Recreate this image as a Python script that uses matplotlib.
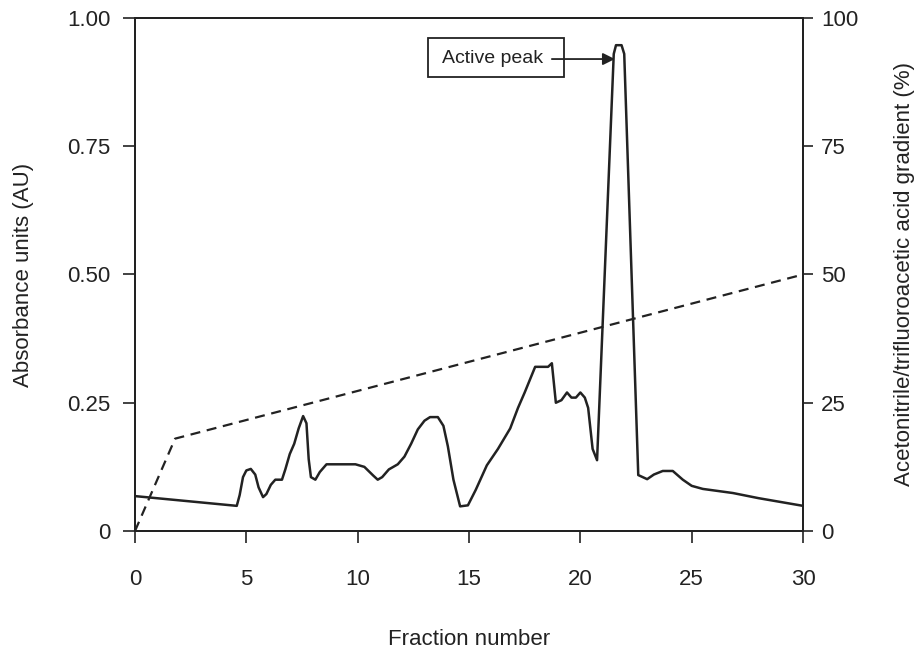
import matplotlib
matplotlib.use('Agg')
import matplotlib.pyplot as plt
from matplotlib.patches import Rectangle

plt.rcParams['font.family'] = ['Liberation Sans', 'DejaVu Sans']

# absorbance trace (AU) vs fraction number
fraction = [0, 4.57, 4.7, 4.85, 5.0, 5.2, 5.4, 5.55, 5.75, 5.9, 6.1, 6.3, 6.6, 6.75,
            6.95, 7.15, 7.35, 7.55, 7.7, 7.8, 7.9, 8.1, 8.3, 8.6, 9.9, 10.3, 10.7,
            10.9, 11.1, 11.4, 11.8, 12.1, 12.4, 12.7, 13.0, 13.25, 13.6, 13.85,
            14.05, 14.3, 14.6, 14.95, 15.3, 15.8, 16.3, 16.85, 17.2, 17.5, 17.97,
            18.55, 18.72, 18.9, 19.15, 19.4, 19.6, 19.8, 20.0, 20.2, 20.35, 20.55,
            20.75, 21.5, 21.6, 21.85, 21.97, 22.6, 23.0, 23.3, 23.7, 24.15, 24.6,
            25.0, 25.5, 26.85, 28.0, 30.0]
absorbance = [0.068, 0.049, 0.07, 0.105, 0.118, 0.121, 0.11, 0.085, 0.066, 0.072,
              0.09, 0.10, 0.10, 0.12, 0.15, 0.17, 0.20, 0.224, 0.21, 0.14, 0.105,
              0.10, 0.115, 0.13, 0.13, 0.125, 0.108, 0.10, 0.105, 0.12, 0.13,
              0.145, 0.17, 0.198, 0.215, 0.222, 0.222, 0.205, 0.165, 0.10, 0.048,
              0.05, 0.08, 0.128, 0.16, 0.20, 0.24, 0.27, 0.32, 0.32, 0.327, 0.25,
              0.255, 0.27, 0.26, 0.26, 0.27, 0.26, 0.24, 0.16, 0.138, 0.93, 0.947,
              0.947, 0.93, 0.109, 0.101, 0.11, 0.117, 0.117, 0.10, 0.088, 0.082,
              0.074, 0.064, 0.049]

# acetonitrile gradient (%)
grad_x = [0, 1.8, 30]
grad_y = [0, 18, 50]

INK = '#222222'

fig, ax = plt.subplots(figsize=(9.14, 6.57), dpi=100)
fig.subplots_adjust(left=0.1477, right=0.8786, bottom=0.1918, top=0.9726)

ax.plot(fraction, absorbance, color=INK, lw=1.8, solid_joinstyle='round')
ax.set_xlim(0, 30)
ax.set_ylim(0, 1.0)
ax.set_xticks([0, 5, 10, 15, 20, 25, 30])
ax.set_yticks([0, 0.25, 0.5, 0.75, 1.0])
ax.set_yticklabels(['0', '0.25', '0.50', '0.75', '1.00'])
ax.tick_params(direction='out', length=8.5, width=1.2, labelsize=16, colors=INK)
ax.tick_params(axis='x', pad=19)
ax.tick_params(axis='y', pad=9)
ax.set_xlabel('Fraction number', fontsize=16, labelpad=28, color=INK)
ax.set_ylabel('Absorbance units (AU)', fontsize=16, labelpad=24, color=INK)

ax2 = ax.twinx()
ax2.plot(grad_x, grad_y, color=INK, lw=1.6, ls=(0, (4.5, 3)))
ax2.set_ylim(0, 100)
ax2.set_yticks([0, 25, 50, 75, 100])
ax2.tick_params(direction='out', length=7, width=1.2, labelsize=16, pad=6, colors=INK)
ax2.set_ylabel('Acetonitrile/trifluoroacetic acid gradient (%)', fontsize=16,
               labelpad=26, color=INK)

for a in (ax, ax2):
    for s in a.spines.values():
        s.set_linewidth(1.4)
        s.set_color(INK)

# "Active peak" label box and arrow
ax.add_patch(Rectangle((13.16, 0.885), 6.1, 0.076, fill=False, ec=INK, lw=1.3,
                       zorder=3))
ax.text(16.07, 0.922, 'Active peak', fontsize=14, ha='center', va='center',
        color=INK)
ax.annotate('', xy=(21.55, 0.92), xytext=(18.72, 0.92),
            arrowprops=dict(arrowstyle='-|>', color=INK, lw=1.3,
                            mutation_scale=18, shrinkA=0, shrinkB=0))

fig.savefig('out.png', dpi=100)
